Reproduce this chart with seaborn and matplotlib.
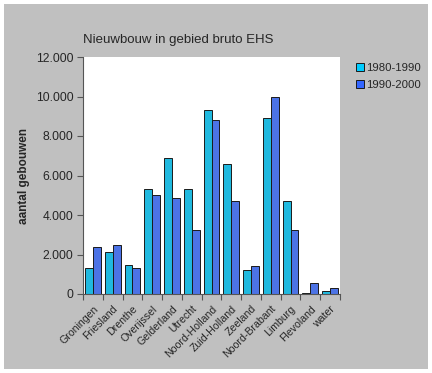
import numpy as np
import pandas as pd
import matplotlib
matplotlib.use("Agg")
import matplotlib.pyplot as plt
from matplotlib.patches import Rectangle, Patch
from matplotlib.ticker import FuncFormatter
import seaborn as sns

provincies = ["Groningen", "Friesland", "Drenthe", "Overijssel", "Gelderland", "Utrecht",
              "Noord-Holland", "Zuid-Holland", "Zeeland", "Noord-Brabant", "Limburg",
              "Flevoland", "water"]
periode_1980 = [1300, 2110, 1490, 5330, 6890, 5300, 9300, 6580, 1200, 8910, 4730, 60, 140]
periode_1990 = [2400, 2460, 1300, 5000, 4840, 3240, 8790, 4730, 1420, 9960, 3240, 540, 320]
periodes = ["1980-1990", "1990-2000"]
kleuren = ["#00ccff", "#3366ff"]
y_ticks = [0, 2000, 4000, 6000, 8000, 10000, 12000]

df = pd.DataFrame({
    "provincie": provincies * 2,
    "aantal": periode_1980 + periode_1990,
    "periode": [periodes[0]] * len(provincies) + [periodes[1]] * len(provincies),
})

sns.set_style("ticks")
plt.rcParams["font.family"] = ["Liberation Sans", "DejaVu Sans"]

W, H = 432, 373
fig = plt.figure(figsize=(W / 100, H / 100), dpi=100)
fig.patch.set_facecolor("white")
fig.patches.append(Rectangle((4 / W, 4 / H), 424 / W, 365 / H, transform=fig.transFigure,
                             facecolor="#c0c0c0", edgecolor="none", zorder=-10))

ax = fig.add_axes([83 / W, 1 - 294 / H, 257 / W, 237 / H])
ax.set_facecolor("white")
ax.set_zorder(1)

sns.barplot(data=df, x="provincie", y="aantal", hue="periode", hue_order=periodes,
            palette=kleuren, width=0.8, gap=0, edgecolor="#1a1a1a", linewidth=0.7,
            legend=False, ax=ax)

ax.set_xlim(-0.5, len(provincies) - 0.5)
ax.set_ylim(0, 12000)
ax.set_yticks(y_ticks)
ax.yaxis.set_major_formatter(FuncFormatter(lambda v, p: f"{int(v):,}".replace(",", ".")))
ax.tick_params(axis="y", labelsize=8.7, length=4, width=0.8, color="#555555", pad=3)

ax.set_xticks(np.arange(-0.5, len(provincies), 1), minor=True)
ax.tick_params(axis="x", which="minor", length=4, width=0.8, color="#555555")
ax.tick_params(axis="x", which="major", length=0, pad=7)
ax.set_xticklabels(provincies, rotation=45, ha="right", va="top", rotation_mode="anchor",
                   fontsize=7.6)

for s in ["top", "right"]:
    ax.spines[s].set_visible(False)
for s in ["left", "bottom"]:
    ax.spines[s].set_color("#555555")
    ax.spines[s].set_linewidth(0.8)

ax.set_xlabel("")
ax.set_ylabel("aantal gebouwen", fontsize=8.5, fontweight="bold")
ax.yaxis.set_label_coords(-0.205, 0.5)

fig.text(83 / W, 1 - 40 / H, "Nieuwbouw in gebied bruto EHS", fontsize=9.5,
         ha="left", va="center")

handles = [Patch(facecolor=c, edgecolor="#1a1a1a", linewidth=0.7) for c in kleuren]
fig.legend(handles, periodes, loc="upper left", bbox_to_anchor=(351 / W, 1 - 58 / H),
           frameon=False, fontsize=8.2, handlelength=0.7, handleheight=0.7,
           handletextpad=0.25, labelspacing=0.65, borderaxespad=0)

fig.savefig("out.png", dpi=100)
